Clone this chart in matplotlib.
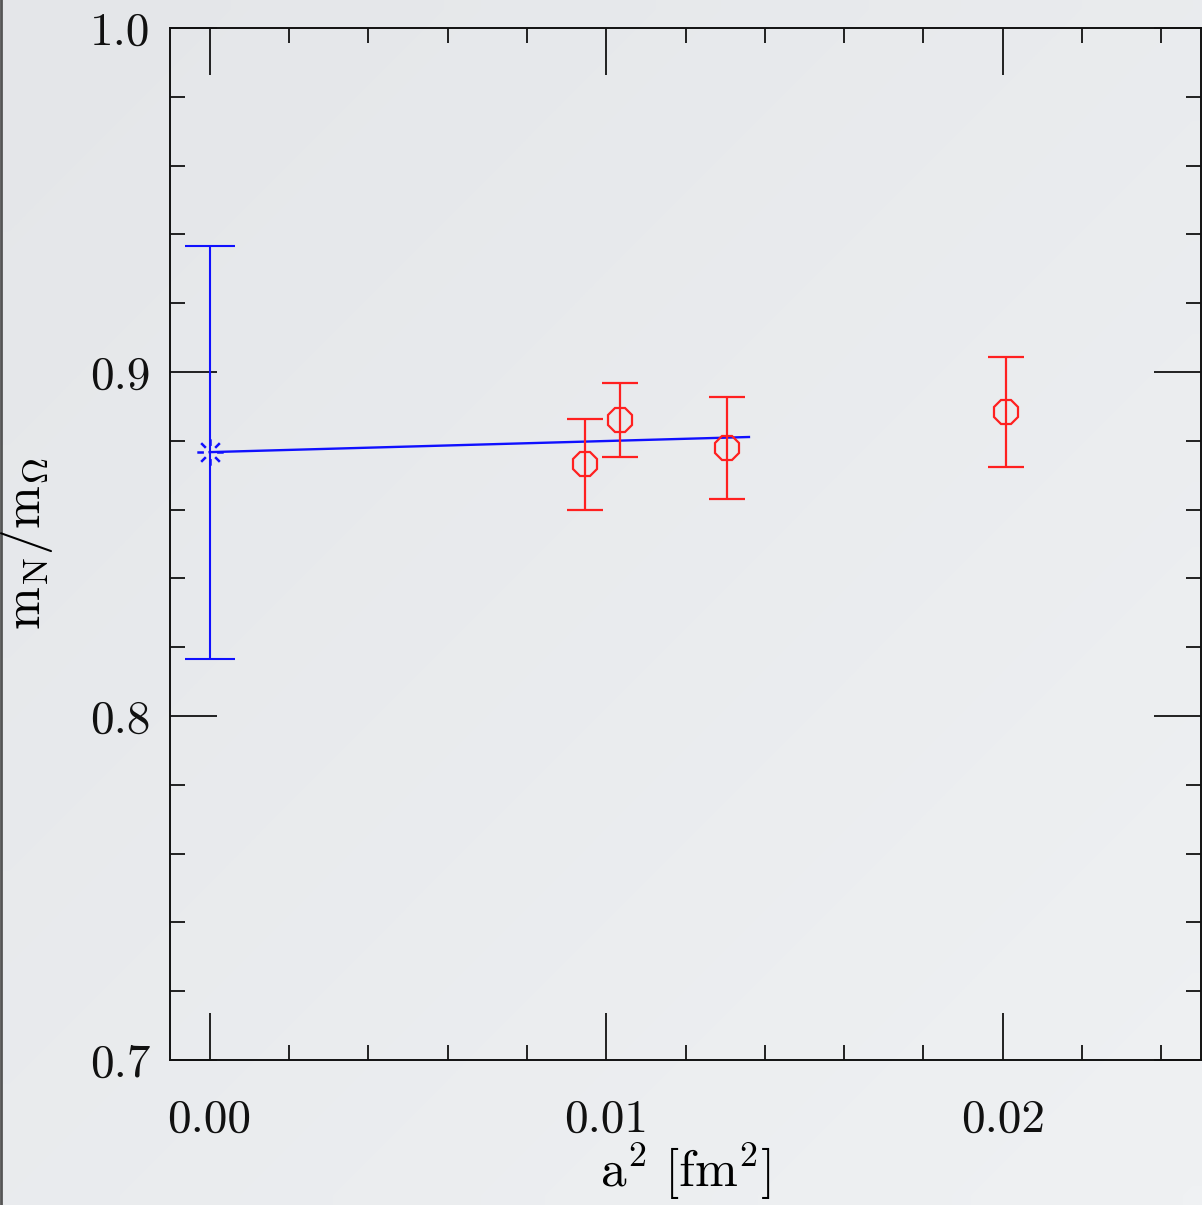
import numpy as np
import matplotlib
matplotlib.use("Agg")
import matplotlib.pyplot as plt
from matplotlib.path import Path
from matplotlib.colors import LinearSegmentedColormap
from matplotlib.ticker import MultipleLocator, FixedLocator

plt.rcParams['font.family'] = ['cmr10', 'DejaVu Serif']
plt.rcParams['mathtext.fontset'] = 'cm'
plt.rcParams['axes.formatter.use_mathtext'] = True

# lattice data (red octagons)
a2 = [0.00946, 0.01034, 0.01304, 0.02008]
ratio = [0.8733, 0.8860, 0.8779, 0.8884]
err_lo = [0.0134, 0.0107, 0.0148, 0.0160]
err_hi = [0.0130, 0.0108, 0.0148, 0.0160]

# continuum extrapolation (blue)
cont_x = [0.0]
cont_y = [0.8767]
cont_lo = [0.0601]
cont_hi = [0.0599]
fit_x = [0.0, 0.0136]
fit_y = [0.8767, 0.8811]

xticks = [0.00, 0.01, 0.02]
xtick_labels = ["0.00", "0.01", "0.02"]
yticks = [0.7, 0.8, 0.9, 1.0]
ytick_labels = ["0.7", "0.8", "0.9", "1.0"]

bg = '#e9ebee'
fig = plt.figure(figsize=(12.02, 12.05), dpi=100, facecolor=bg)

# faint diagonal shading like the slide background
bax = fig.add_axes([0, 0, 1, 1], zorder=-10)
gy, gx = np.mgrid[0:1:64j, 0:1:64j]
bcmap = LinearSegmentedColormap.from_list('bgc', ['#e4e6e9', '#eff1f3'])
bax.imshow(0.5 * (gx + gy), cmap=bcmap, extent=[0, 1, 0, 1],
           origin='upper', aspect='auto', interpolation='bilinear')
bax.set_axis_off()
bax.plot([0.001, 0.001], [0, 1], color='#555555', lw=2)
bax.set_xlim(0, 1)
bax.set_ylim(0, 1)

ax = fig.add_axes([0.1414, 0.1203, 0.8578, 0.8565])
ax.patch.set_alpha(0)

# burst marker: 8 rays that leave the centre empty
verts, codes = [], []
for ang in np.arange(0, 360, 45):
    t = np.deg2rad(ang)
    verts += [(0.5 * np.cos(t), 0.5 * np.sin(t)), (np.cos(t), np.sin(t))]
    codes += [Path.MOVETO, Path.LINETO]
burst = Path(verts, codes)

ax.plot(fit_x, fit_y, color='#1010ff', lw=1.7)
ax.errorbar(cont_x, cont_y, yerr=[cont_lo, cont_hi], fmt='none',
            ecolor='#1010ff', elinewidth=1.5, capsize=18, capthick=1.5)
ax.plot(cont_x, cont_y, ls='none', marker=burst, ms=19, mew=1.8,
        color='#1010ff')

ax.errorbar(a2, ratio, yerr=[err_lo, err_hi], fmt='8', ms=18,
            mfc='none', mec='#ff2020', mew=1.6, ecolor='#ff2020',
            elinewidth=1.6, capsize=13, capthick=1.6)

ax.set_xlim(-0.001, 0.025)
ax.set_ylim(0.7, 1.0)
ax.xaxis.set_major_locator(FixedLocator(xticks))
ax.set_xticklabels(xtick_labels)
ax.xaxis.set_minor_locator(MultipleLocator(0.002))
ax.yaxis.set_major_locator(FixedLocator(yticks))
ax.set_yticklabels(ytick_labels)
ax.yaxis.set_minor_locator(MultipleLocator(0.02))

ax.tick_params(which='both', direction='in', top=True, right=True,
               width=1.3, colors='#111111', labelsize=34)
ax.tick_params(which='major', length=34)
ax.tick_params(which='minor', length=11)
ax.tick_params(axis='x', which='major', pad=28)
ax.tick_params(axis='y', which='major', pad=14)
for s in ax.spines.values():
    s.set_linewidth(1.4)
    s.set_color('#111111')

ax.set_xlabel(r'$\mathrm{a^2\ [fm^2]}$', fontsize=37, labelpad=0)
ax.set_ylabel(r'$\mathrm{m_N/m_\Omega}$', fontsize=37, labelpad=25)

fig.savefig('out.png', dpi=100, facecolor=bg)
